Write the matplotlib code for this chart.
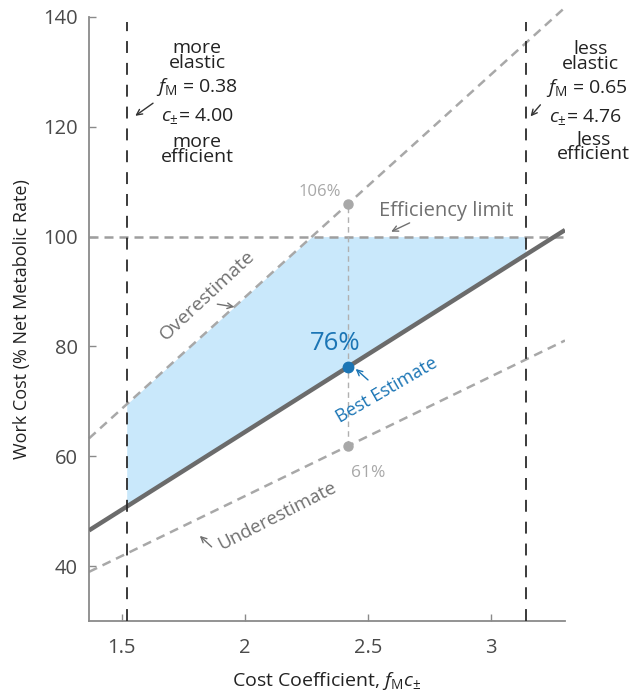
import numpy as np
import matplotlib
matplotlib.use("Agg")
import matplotlib.pyplot as plt

plt.rcParams['font.family'] = ['Open Sans', 'DejaVu Sans']
plt.rcParams['mathtext.fontset'] = 'custom'
plt.rcParams['mathtext.rm'] = 'Open Sans'
plt.rcParams['mathtext.it'] = 'Open Sans:italic'

# cost coefficient range shown
x_range = [1.367, 3.3]
# work cost lines: value at the best-estimate coefficient and slope
x_best = 2.42
best_value = 76.3
best_slope = 28.3
over_value = 106.0
over_slope = 40.6
under_value = 61.9
under_slope = 21.8
efficiency_limit = 100
# bounds of the coefficient (more / less elastic)
x_low = 1.52
x_high = 3.14

def line(x, v, s):
    return v + s * (np.asarray(x) - x_best)

fig = plt.figure(figsize=(6.33, 6.93), dpi=100)
ax = fig.add_axes([0.1406, 0.1039, 0.752, 0.8716])

xs = np.array(x_range)
gray_dash = (0, (3.6, 2.4))

# shaded region between best estimate and min(overestimate, limit)
xf = np.linspace(x_low, x_high, 400)
top = np.minimum(line(xf, over_value, over_slope), efficiency_limit)
ax.fill_between(xf, line(xf, best_value, best_slope), top, color='#c9e8fb', lw=0, zorder=1)

ax.plot(xs, [efficiency_limit] * 2, color='#9e9e9e', lw=1.8, ls=gray_dash, zorder=2)
ax.plot(xs, line(xs, over_value, over_slope), color='#a8a8a8', lw=1.8, ls=gray_dash,
        zorder=2, clip_on=False)
ax.plot(xs, line(xs, under_value, under_slope), color='#a8a8a8', lw=1.8, ls=gray_dash, zorder=2)
ax.plot(xs, line(xs, best_value, best_slope), color='#6b6b6b', lw=3.2, solid_capstyle='butt', zorder=3)

for xv in [x_low, x_high]:
    ax.plot([xv, xv], [30, 139], color='#2b2b2b', lw=1.3, ls=(0, (6.6, 5.5)), zorder=4)

# vertical connector through the three estimates
ax.plot([x_best, x_best], [under_value, over_value], color='#b0b0b0', lw=1.0,
        ls=(0, (4, 3)), zorder=2)
ax.plot([x_best, x_best], [over_value, under_value], 'o', color='#a8a8a8', ms=6.5, zorder=5)
ax.plot([x_best], [best_value], 'o', color='#1b75b5', ms=7.5, zorder=6)

ax.set_xlim(x_range)
ax.set_ylim(30, 140)
ax.set_xticks([1.5, 2, 2.5, 3])
ax.set_xticklabels(['1.5', '2', '2.5', '3'])
ax.set_yticks([40, 60, 80, 100, 120, 140])
for s in ['top', 'right']:
    ax.spines[s].set_visible(False)
for s in ['left', 'bottom']:
    ax.spines[s].set_color('#8a8a8a')
    ax.spines[s].set_linewidth(1.3)
ax.tick_params(direction='in', length=5, width=1, color='#8a8a8a', labelsize=14.5,
               labelcolor='#4a4a4a')
ax.tick_params(axis='x', pad=12)
ax.tick_params(axis='y', pad=8)

ax.set_xlabel(r'Cost Coefficient, $f_{\rm M}c_{\pm}$', fontsize=14, color='#222222', labelpad=9)
ax.set_ylabel('Work Cost (% Net Metabolic Rate)', fontsize=13, color='#222222', labelpad=9)

# annotation blocks (tight two-line captions as one text each)
fs = 14
tk = dict(ha='center', va='center', fontsize=fs, color='#222222', clip_on=False)
ax.text(1.806, 133.0, 'more\nelastic', linespacing=0.76, **tk)
ax.text(1.806, 127.3, r'$f_{\rm M}$ = 0.38', **tk)
ax.text(1.806, 122.0, r'$c_{\pm}$= 4.00', **tk)
ax.text(1.806, 115.9, 'more\nefficient', linespacing=0.76, **tk)

ax.text(3.405, 132.8, 'less\nelastic', linespacing=0.76, **tk)
ax.text(3.389, 127.0, r'$f_{\rm M}$ = 0.65', **tk)
ax.text(3.385, 121.8, r'$c_{\pm}$= 4.76', **tk)
ax.text(3.414, 116.3, 'less\nefficient', linespacing=0.76, **tk)

arrow_k = dict(arrowstyle='->', color='#333333', lw=1.0, shrinkA=0, shrinkB=0)
ax.annotate('', xy=(1.555, 122.0), xytext=(1.627, 124.3), arrowprops=arrow_k)
ax.annotate('', xy=(3.16, 121.9), xytext=(3.20, 124.0), arrowprops=arrow_k)

arrow_g = dict(arrowstyle='->', color='#707070', lw=1.0, shrinkA=0, shrinkB=0)
ax.text(2.818, 104.6, 'Efficiency limit', ha='center', va='center', fontsize=14.5, color='#707070')
ax.annotate('', xy=(2.594, 100.9), xytext=(2.669, 102.5), arrowprops=arrow_g)

ax.text(1.848, 89.3, 'Overestimate', ha='center', va='center', fontsize=14,
        color='#707070', rotation=43)
ax.annotate('', xy=(1.957, 87.2), xytext=(1.888, 87.7), arrowprops=arrow_g)

ax.text(2.132, 49.1, 'Underestimate', ha='center', va='center', fontsize=13.5,
        color='#707070', rotation=27)
ax.annotate('', xy=(1.817, 45.5), xytext=(1.865, 43.5), arrowprops=arrow_g)

ax.text(2.305, 108.2, '106%', ha='center', va='center', fontsize=12, color='#a8a8a8')
ax.text(2.50, 57.0, '61%', ha='center', va='center', fontsize=12.5, color='#a8a8a8')

ax.text(2.365, 80.6, '76%', ha='center', va='center', fontsize=18.5, color='#1b75b5')
ax.text(2.575, 72.1, 'Best Estimate', ha='center', va='center', fontsize=13,
        color='#1b75b5', rotation=30)
ax.annotate('', xy=(2.45, 75.9), xytext=(2.50, 73.9),
            arrowprops=dict(arrowstyle='->', color='#1b75b5', lw=1.0, shrinkA=0, shrinkB=0))

fig.savefig('out.png', dpi=100)
